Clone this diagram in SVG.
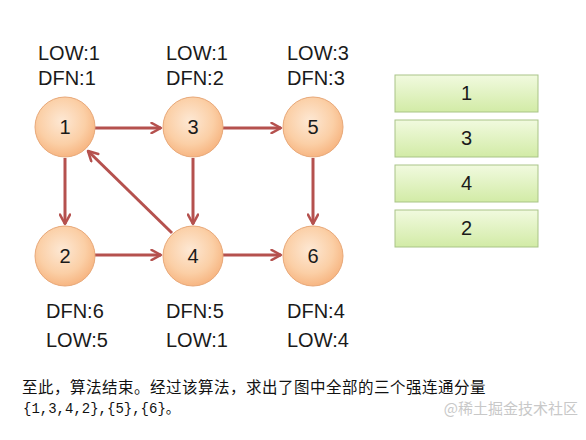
<svg xmlns="http://www.w3.org/2000/svg" width="586" height="440" viewBox="0 0 586 440">
<defs>
<radialGradient id="cg" cx="45%" cy="40%" r="65%">
<stop offset="0" stop-color="#fde8d4"/>
<stop offset="0.6" stop-color="#fbcfa6"/>
<stop offset="1" stop-color="#f6b07a"/>
</radialGradient>
<linearGradient id="rg2" x1="0" y1="0" x2="0" y2="1">
<stop offset="0" stop-color="#f1fadf"/>
<stop offset="1" stop-color="#d2eba6"/>
</linearGradient>
<marker id="ah" viewBox="0 0 10 10" refX="8.5" refY="5" markerWidth="4.2" markerHeight="4.2" orient="auto" markerUnits="strokeWidth">
<path d="M1,1 L8.5,5 L1,9" fill="none" stroke="#b5514e" stroke-width="2" stroke-linecap="round" stroke-linejoin="round"/>
</marker>
</defs>
<style>
.n circle{fill:url(#cg);stroke:#e8a878;stroke-width:1}
.n text{font-family:"Liberation Sans",Arial,sans-serif;font-size:20px;fill:#1a1a1a;text-anchor:middle}
.lbl{font-family:"Liberation Sans",Arial,sans-serif;font-size:20px;fill:#1a1a1a}
.e line{stroke:#b5514e;stroke-width:3;marker-end:url(#ah)}
.r rect{fill:url(#rg2);stroke:#a9c487;stroke-width:1}
.r text{font-family:"Liberation Sans",Arial,sans-serif;font-size:20px;fill:#1a1a1a;text-anchor:middle}
.cn{font-family:"Noto Sans CJK SC",sans-serif;font-size:15.5px;fill:#111}
</style>
<rect width="586" height="440" fill="#ffffff"/>
<g id="connectors" class="e">
<line x1="95" y1="128" x2="161" y2="128"/>
<line x1="223" y1="128" x2="281" y2="128"/>
<line x1="65" y1="158" x2="65" y2="224"/>
<line x1="193" y1="158" x2="193" y2="224"/>
<line x1="313" y1="158" x2="313" y2="224"/>
<line x1="95" y1="255" x2="161" y2="255"/>
<line x1="223" y1="255" x2="281" y2="255"/>
<line x1="172" y1="233" x2="88" y2="151"/>
</g>
<g id="node1" class="n"><circle cx="65" cy="127" r="30"/><text x="65" y="134">1</text></g>
<g id="node3" class="n"><circle cx="193" cy="127" r="30"/><text x="193" y="134">3</text></g>
<g id="node5" class="n"><circle cx="313" cy="127" r="30"/><text x="313" y="134">5</text></g>
<g id="node2" class="n"><circle cx="65" cy="256" r="30"/><text x="65" y="263">2</text></g>
<g id="node4" class="n"><circle cx="193" cy="256" r="30"/><text x="193" y="263">4</text></g>
<g id="node6" class="n"><circle cx="313" cy="256" r="30"/><text x="313" y="263">6</text></g>
<g id="labels">
<text class="lbl" x="38" y="60">LOW:1</text>
<text class="lbl" x="38" y="85">DFN:1</text>
<text class="lbl" x="166" y="60">LOW:1</text>
<text class="lbl" x="166" y="85">DFN:2</text>
<text class="lbl" x="287" y="60">LOW:3</text>
<text class="lbl" x="287" y="85">DFN:3</text>
<text class="lbl" x="46" y="318">DFN:6</text>
<text class="lbl" x="46" y="347">LOW:5</text>
<text class="lbl" x="166" y="318">DFN:5</text>
<text class="lbl" x="166" y="347">LOW:1</text>
<text class="lbl" x="287" y="318">DFN:4</text>
<text class="lbl" x="287" y="347">LOW:4</text>
</g>
<g id="stack" class="r">
<g id="s1"><rect x="395" y="75" width="143" height="37"/><text x="466.5" y="100">1</text></g>
<g id="s3"><rect x="395" y="120" width="143" height="37"/><text x="466.5" y="145">3</text></g>
<g id="s4"><rect x="395" y="165" width="143" height="37"/><text x="466.5" y="190">4</text></g>
<g id="s2"><rect x="395" y="210" width="143" height="37"/><text x="466.5" y="235">2</text></g>
</g>
<text class="cn" x="22" y="393" letter-spacing="0.5">至此，算法结束。经过该算法，求出了图中全部的三个强连通分量</text>
<text x="23" y="413" font-family="'Liberation Mono','Noto Sans CJK SC',monospace" font-size="14" fill="#111">{1,3,4,2},{5},{6}。</text>
<text x="578" y="414" text-anchor="end" font-family="'Noto Sans CJK SC',sans-serif" font-size="15" fill="#c8c8c8">@稀土掘金技术社区</text>
</svg>
